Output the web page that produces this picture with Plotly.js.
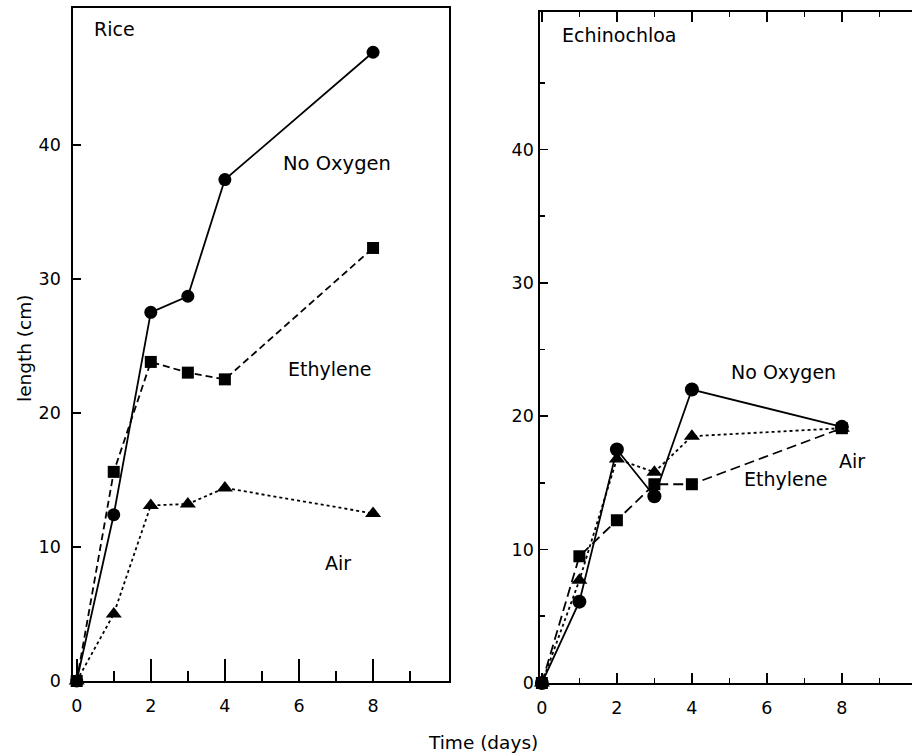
<!DOCTYPE html>
<html>
<head>
<meta charset="utf-8">
<script src="https://cdn.plot.ly/plotly-3.0.1.min.js"></script>
<style>html,body{margin:0;padding:0;background:#fff;}#chart{width:912px;height:754px;}</style>
</head>
<body>
<div id="chart"></div>
<script>
// Time points (days)
var days = [0, 1, 2, 3, 4, 8];

// Rice
var riceNoOxygen = [0, 12.4, 27.5, 28.7, 37.4, 46.9];
var riceEthylene = [0, 15.6, 23.8, 23.0, 22.5, 32.3];
var riceAir      = [0, 5.0, 13.1, 13.2, 14.4, 12.5];

// Echinochloa
var echNoOxygen = [0, 6.1, 17.5, 14.0, 22.0, 19.2];
var echEthylene = [0, 9.5, 12.2, 14.9, 14.9, 19.1];
var echAir      = [0, 7.7, 16.8, 15.8, 18.5, 19.1];

var xTickVals = [0, 2, 4, 6, 8];
var xTickText = ['0', '2', '4', '6', '8'];
var yTickVals = [0, 10, 20, 30, 40];
var yTickText = ['0', '10', '20', '30', '40'];

var FONT = 'DejaVu Sans, Liberation Sans, Arial, sans-serif';

function series(x, y, sym, dash, xa, ya, msize) {
  return {
    x: x, y: y, xaxis: xa, yaxis: ya, type: 'scatter', mode: 'lines+markers',
    line: {color: '#000', width: 1.8, dash: dash},
    marker: {symbol: sym, size: msize || 12, color: '#000'},
    showlegend: false, cliponaxis: false, hoverinfo: 'x+y'
  };
}

var data = [
  series(days, riceNoOxygen, 'circle', 'solid', 'x', 'y', 13),
  series(days, riceEthylene, 'square', '7px,4px', 'x', 'y', 12),
  series(days, riceAir, 'triangle-up', '3px,3px', 'x', 'y', 14),
  series(days, echNoOxygen, 'circle', 'solid', 'x2', 'y2', 14),
  series(days, echEthylene, 'square', '10px,5px', 'x2', 'y2', 12),
  series(days, echAir, 'triangle-up', '3px,3px', 'x2', 'y2', 14)
];

var axBase = {
  showgrid: false, zeroline: false, showline: true, linecolor: '#000', linewidth: 1.6,
  ticks: 'inside', tickcolor: '#000', tickwidth: 1.6,
  tickfont: {family: FONT, size: 17.5, color: '#000'}, fixedrange: true
};

function ann(text, x, y, xref, yref, xanchor, size) {
  return {text: text, x: x, y: y, xref: xref, yref: yref, xanchor: xanchor, yanchor: 'middle',
          showarrow: false, font: {family: FONT, size: size, color: '#000'}};
}

var layout = {
  width: 912, height: 754,
  margin: {l: 0, r: 0, t: 0, b: 0},
  paper_bgcolor: '#fff', plot_bgcolor: '#fff',
  showlegend: false,
  xaxis: Object.assign({}, axBase, {
    domain: [73/912, 449/912], range: [-0.1, 10.05], anchor: 'y',
    tickmode: 'array', tickvals: xTickVals, ticktext: xTickText, ticklen: 22,
    minor: {tickmode: 'array', tickvals: [1, 3, 5, 7, 9], ticks: 'inside', ticklen: 10, tickcolor: '#000', tickwidth: 1.6},
    mirror: true, ticklabelstandoff: 8
  }),
  yaxis: Object.assign({}, axBase, {
    domain: [1 - 681/754, 1 - 8/754], range: [0, 50.2], anchor: 'x',
    tickmode: 'array', tickvals: yTickVals, ticktext: yTickText, ticklen: 8,
    mirror: true, ticklabelstandoff: 7
  }),
  xaxis2: Object.assign({}, axBase, {
    domain: [540/912, 1], range: [-0.05, 9.87], anchor: 'y2',
    tickmode: 'array', tickvals: xTickVals, ticktext: xTickText, ticklen: 10,
    minor: {tickmode: 'array', tickvals: [1, 3, 5, 7, 9], ticks: 'inside', ticklen: 5, tickcolor: '#000', tickwidth: 1.6},
    mirror: 'allticks', ticklabelstandoff: 8
  }),
  yaxis2: Object.assign({}, axBase, {
    domain: [1 - 683/754, 1 - 12/754], range: [0, 50.3], anchor: 'x2',
    tickmode: 'array', tickvals: yTickVals, ticktext: yTickText, ticklen: 8,
    minor: {tickmode: 'array', tickvals: [5, 15, 25, 35, 45], ticks: 'inside', ticklen: 5, tickcolor: '#000', tickwidth: 1.6},
    ticklabelstandoff: 1
  }),
  annotations: [
    ann('Rice', 0.40, 48.65, 'x', 'y', 'left', 19),
    ann('No Oxygen', 7.03, 38.6, 'x', 'y', 'center', 19.5),
    ann('Ethylene', 6.82, 23.3, 'x', 'y', 'center', 19),
    ann('Air', 7.06, 8.8, 'x', 'y', 'center', 19),
    ann('Echinochloa', 0.48, 48.6, 'x2', 'y2', 'left', 19),
    ann('No Oxygen', 6.43, 23.3, 'x2', 'y2', 'center', 19),
    ann('Ethylene', 6.5, 15.3, 'x2', 'y2', 'center', 19),
    ann('Air', 8.27, 16.65, 'x2', 'y2', 'center', 19),
    ann('Time (days)', 483/912, 1 - 742/754, 'paper', 'paper', 'center', 18.5),
    Object.assign(ann('length (cm)', 24/912, 1 - 349/754, 'paper', 'paper', 'center', 18.5), {textangle: -90})
  ]
};

Plotly.newPlot('chart', data, layout, {displayModeBar: false, staticPlot: true});
</script>
</body>
</html>
